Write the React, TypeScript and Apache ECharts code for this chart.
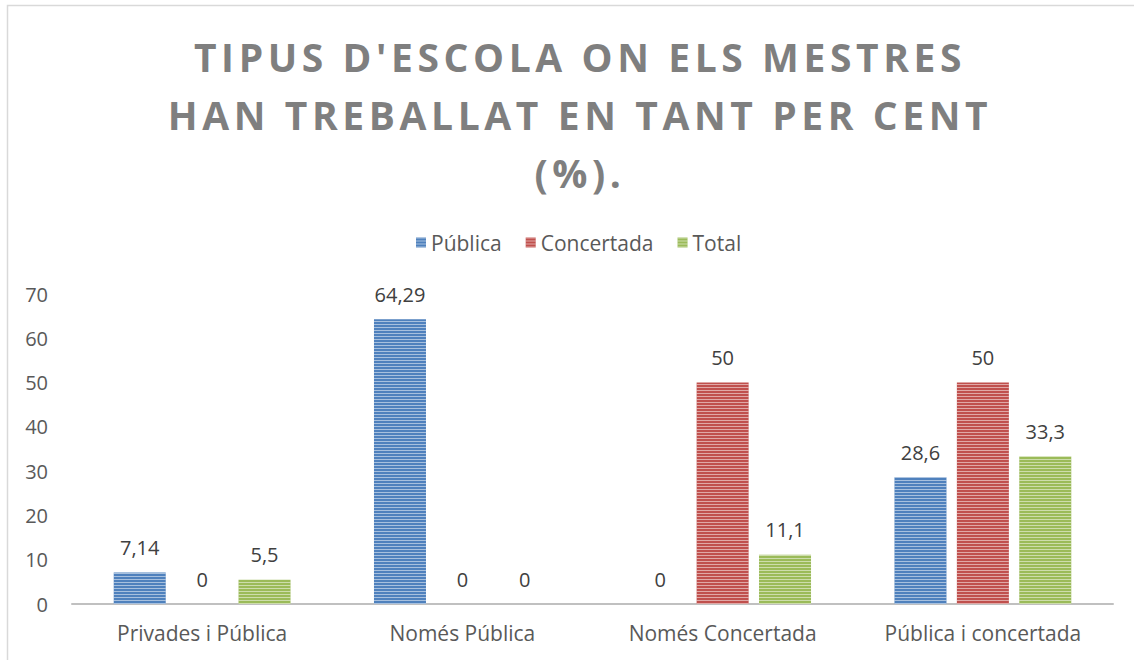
import React, { useEffect, useRef } from "react";
import * as echarts from "echarts";

const titleLines = ["TIPUS D'ESCOLA ON ELS MESTRES", "HAN TREBALLAT EN TANT PER CENT", "(%)."];
const categories = ["Privades i Pública", "Només Pública", "Només Concertada", "Pública i concertada"];
const seriesNames = ["Pública", "Concertada", "Total"];
const publica = [7.14, 64.29, 0, 28.6];
const concertada = [0, 0, 50, 50];
const total = [5.5, 0, 11.1, 33.3];
const yTicks = { min: 0, max: 70, interval: 10 };
const colors = ["#4F81BD", "#C0504D", "#9BBB59"];

const FONT = "'Open Sans', sans-serif";

export default function App() {
  const ref = useRef<HTMLDivElement>(null);
  useEffect(() => {
    if (!ref.current) return;
    const chart = echarts.init(ref.current, undefined, { renderer: "svg" });
    const decal = {
      symbol: "rect",
      symbolSize: 1,
      dashArrayX: [1, 0],
      dashArrayY: [1, 2],
      color: "rgba(255,255,255,0.5)",
      rotation: 0,
    };
    const values = [publica, concertada, total];
    const option: any = {
      animation: false,
      backgroundColor: "#ffffff",
      color: colors,
      graphic: [
        {
          type: "rect",
          shape: { x: 7.5, y: 5.5, width: 1200, height: 700 },
          style: { fill: "none", stroke: "#d9d9d9", lineWidth: 1.5 },
          silent: true,
        },
        ...titleLines.map((t, i) => ({
          type: "text",
          x: 580,
          y: 56 + i * 58,
          style: {
            text: t,
            fill: "#7f7f7f",
            font: `bold 39px ${FONT}`,
            align: "center",
            verticalAlign: "middle",
          },
        })),
      ],
      legend: {
        left: 411,
        top: 227,
        itemWidth: 10,
        itemHeight: 10,
        itemGap: 24,
        icon: "rect",
        textStyle: { color: "#595959", fontSize: 21, fontFamily: FONT },
        data: seriesNames,
      },
      grid: { left: 72, right: 21, top: 294, bottom: 56, containLabel: false },
      xAxis: {
        type: "category",
        data: categories,
        axisLine: { lineStyle: { color: "#c0c0c0", width: 2 } },
        axisTick: { show: false },
        axisLabel: { color: "#595959", fontSize: 21, fontFamily: FONT, margin: 18 },
      },
      yAxis: {
        type: "value",
        min: yTicks.min,
        max: yTicks.max,
        interval: yTicks.interval,
        splitLine: { show: false },
        axisLine: { show: false },
        axisTick: { show: false },
        axisLabel: { color: "#595959", fontSize: 20, fontFamily: FONT, margin: 24 },
      },
      series: seriesNames.map((name, i) => ({
        name,
        type: "bar",
        data: values[i],
        barWidth: 52,
        barGap: "20%",
        itemStyle: { color: colors[i], decal },
        label: {
          show: true,
          position: "top",
          distance: 15,
          color: "#404040",
          fontSize: 20,
          fontFamily: FONT,
          formatter: (p: any) => String(p.value).replace(".", ","),
        },
      })),
    };
    chart.setOption(option);
    const applySpacing = () => {
      const texts = ref.current?.querySelectorAll("text") || [];
      texts.forEach((el: any) => {
        if (titleLines.includes((el.textContent || "").trim())) {
          el.style.letterSpacing = "4.6px";
        }
      });
    };
    applySpacing();
    return () => chart.dispose();
  }, []);
  return (
    <div
      ref={ref}
      style={{ position: "fixed", left: 0, top: 0, width: 1134, height: 660 }}
    />
  );
}
